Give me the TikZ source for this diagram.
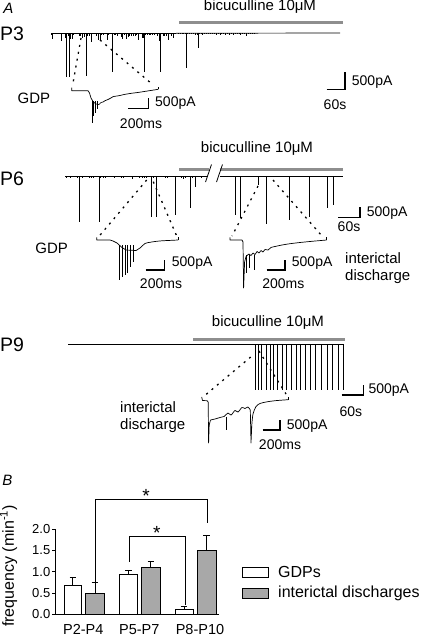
\documentclass[tikz,border=0pt]{standalone}
\usepackage{fontspec}
\setmainfont{Liberation Sans}
\definecolor{drugcol}{HTML}{8E8E8E}
\definecolor{barfill}{HTML}{A8A8A8}
\begin{document}
\begin{tikzpicture}[x=1pt,y=-1pt,
  lbl/.style={font=\fontsize{14}{16}\selectfont, inner sep=0pt},
  txt/.style={font=\fontsize{15}{17}\selectfont, inner sep=0pt},
  big/.style={font=\fontsize{19.5}{21}\selectfont, inner sep=0pt},
  panel/.style={font=\fontsize{15}{17}\selectfont\itshape, inner sep=0pt},
  drugbar/.style={draw=drugcol, line width=2.6pt},
  trace/.style={line width=0.7pt, line join=round},
  spike/.style={line width=0.8pt},
  zoomdash/.style={line width=1.3pt, dash pattern=on 2pt off 5pt},
  scalebar/.style={line width=1.3pt},
  databar/.style={draw, line width=0.8pt},
  errbar/.style={line width=0.8pt},
  bracket/.style={line width=0.8pt}]
\useasboundingbox (0,0) rectangle (422,637);

% ================= Panel A, P3 =================
\node[panel] (labA) at (8.3,8) {A};
\node[big] (p3) at (12,33.3) {P3};
\node[txt] (bic3) at (260,7) {bicuculline 10μM};
\draw[drugbar] (179,22.7) -- (343,22.7);
% trace
\draw[line width=1.4pt] (51,33.3) -- (176,33.3);
\draw[trace] (176,33.3) -- (340,33);
\pgfmathsetseed{12}
\foreach \k in {0,...,70}{
  \pgfmathsetmacro\xx{51+1.75*\k}
  \pgfmathsetmacro\dd{1+9*rnd*rnd}
  \draw[line width=0.6pt] (\xx,33) -- (\xx,33+\dd);
}
\foreach \k in {0,...,40}{
  \pgfmathsetmacro\xx{178+1.9*\k}
  \pgfmathsetmacro\dd{0.5+2.5*rnd*rnd}
  \draw[line width=0.5pt] (\xx,33) -- (\xx,33+\dd);
}
\foreach \sx/\sy in {66.7/76.7, 69.3/76.7, 86/76, 112.3/72, 144.3/72, 160/72, 186/68.3, 198.7/48.3}
  \draw[spike] (\sx,33) -- (\sx,\sy);
\draw[zoomdash] (81,38) -- (72.5,86);
\draw[zoomdash] (100,40) -- (152,84);
% inset GDP
\node[txt] (gdp3) at (34,98) {GDP};
\draw[trace] (71.7,87.5) -- (71.7,90.7) -- (88,90.7) -- (89.5,93) -- (91,98) -- (93,101.5);
\draw[trace] plot[smooth] coordinates {(93,101.5) (96,104) (99,104.5) (101,102.5) (103,102) (105,100.7) (108,99.5) (110,98.5) (113,96.7) (117,96) (120,95.5) (124,94.5) (127,94) (132,93.2) (137,92.6) (143,91.7) (150,90.6) (158.3,89.3)};
\draw[trace] (158.3,89.3) -- (158.3,87.3);
\foreach \sx/\sy in {92/123.3, 93.8/116, 95.5/113, 97.3/109}
  \draw[spike] (\sx,101) -- (\sx,\sy);
\draw[scalebar] (128.3,108.3) -- (148.3,108.3) -- (148.3,98.3);
\node[lbl, anchor=west] (sb3a) at (155,103) {500pA};
\node[lbl] (sb3b) at (141,123.3) {200ms};
% main scale
\draw[scalebar] (326.7,89.3) -- (345,89.3) -- (345,71.7);
\node[lbl, anchor=west] (sb3c) at (351.7,82) {500pA};
\node[lbl] (sb3d) at (335,105) {60s};

% ================= P6 =================
\node[big] (p6) at (12,178.3) {P6};
\node[txt] (bic6) at (257,148.3) {bicuculline 10μM};
\draw[drugbar] (179,169.5) -- (208.5,169.5);
\draw[drugbar] (219.5,169.5) -- (343,169.5);
\draw[line width=1.5pt] (65,176.5) -- (207.5,176.5);
\draw[trace] (220,176.5) -- (343,176.5);
\draw[line width=0.8pt] (205.5,182) -- (211.5,164.5);
\draw[line width=0.8pt] (216.5,182) -- (222.5,164.5);
\pgfmathsetseed{5}
\foreach \k in {0,...,60}{
  \pgfmathsetmacro\xx{66+2.3*\k}
  \pgfmathsetmacro\dd{0.5+2*rnd*rnd}
  \draw[line width=0.5pt] (\xx,176) -- (\xx,176.5+\dd);
}
\foreach \sx/\sy in {79.3/221.7, 99/221.7, 151/216.7, 156.7/216.7, 175.7/215, 190.6/208, 195.7/187}
  \draw[spike] (\sx,176.5) -- (\sx,\sy);
\foreach \sx/\sy in {235.5/215, 240.7/217.5, 258.3/185, 266/223.5, 289/220, 309.6/217, 327/207.5, 333.7/205}
  \draw[spike] (\sx,176.5) -- (\sx,\sy);
\draw[zoomdash] (146.7,180) -- (99.3,236);
\draw[zoomdash] (153.3,181.7) -- (176.7,236);
\draw[zoomdash] (258,186) -- (232,236);
\draw[zoomdash] (273,180) -- (322,236);
% GDP inset
\node[txt] (gdp6) at (51.7,248.3) {GDP};
\draw[trace] (96.7,237.3) -- (96.7,240) -- (110,240) -- (113,241) -- (117,243) -- (122,247.5) -- (126,250) -- (136,250.5);
\draw[trace] plot[smooth] coordinates {(136,250.5) (140,248) (145,243.5) (150,242.3) (155,241.5) (162,240.8) (170,240.4) (178,240)};
\draw[trace] (178,240) -- (178,237.3);
\foreach \sx/\sy in {119.3/280, 122.7/276.7, 125/275, 127.3/273.3, 130.7/266.7, 133.3/261.7}
  \draw[spike] (\sx,245) -- (\sx,\sy);
\draw[scalebar] (145.7,270) -- (164.3,270) -- (164.3,260);
\node[lbl, anchor=west] (sb6a) at (171.7,263.3) {500pA};
\node[lbl] (sb6b) at (161,283.3) {200ms};
% interictal inset
\draw[trace] (230,237.3) -- (230,240) -- (242,240) -- (243,242) -- (243.6,288) -- (244.6,262) -- (246,256.5);
\draw[trace] plot[smooth] coordinates {(246,256.5) (249,254) (251,255.5) (253,253) (255,254.5) (257,251.5) (259,253) (261,250.5) (263,252) (265,249.5) (268,250) (271,247.5) (275,246.5) (282,245) (290,243.7) (300,242.5) (312,241.3) (326.7,240)};
\draw[trace] (326.7,240) -- (326.7,237.3);
\foreach \sx/\sy in {246/273.3, 249.3/268, 254.3/270}
  \draw[spike] (\sx,255) -- (\sx,\sy);
\draw[scalebar] (266.7,270) -- (285,270) -- (285,260);
\node[lbl, anchor=west] (sb6c) at (291.7,263.3) {500pA};
\node[lbl] (sb6d) at (283.3,283.3) {200ms};
\node[txt, anchor=west, align=left] (id6) at (345,268.5) {interictal\\discharge};
% main scale
\draw[scalebar] (338.3,217.7) -- (360,217.7) -- (360,206.7);
\node[lbl, anchor=west] (sb6e) at (366.7,213.3) {500pA};
\node[lbl] (sb6f) at (349,226.7) {60s};

% ================= P9 =================
\node[big] (p9) at (12,344.3) {P9};
\node[txt] (bic9) at (268,323) {bicuculline 10μM};
\draw[drugbar] (193,339.3) -- (345,339.3);
\draw[line width=0.6pt] (68,344.7) -- (343.5,344.7);
\foreach \sx in {255,258.3,261.7,266,270,273.3,277.3,282,286.7,291.7,296,300,305,310,315,321.7,327.3,332.7,338.3,343.3}
  \draw[spike] (\sx,344.7) -- (\sx,390);
\draw[zoomdash] (250.7,357) -- (203,397);
\draw[zoomdash] (259,351) -- (286,394);
% inset
\draw[trace] (201.7,397) -- (202.5,400.5) -- (207,400.7) -- (208.2,402) -- (208.6,443) -- (209.2,425) -- (210.5,420);
\draw[trace] plot[smooth] coordinates {(210.5,420) (215,419) (220,417.5) (224,416.5) (228,413) (231,415) (235,410.5) (238,412) (242,407.5) (245,408.5) (248,407) (250.3,410)};
\draw[trace] (250.3,410) -- (251,443) -- (251.8,425);
\draw[trace] plot[smooth] coordinates {(251.8,425) (253,414) (256,406.5) (260,403.5) (266,402) (275,400.7) (288,399.7)};
\draw[trace] (288,399.7) -- (288,397.2);
\draw[spike] (226.7,416.5) -- (226.7,430);
\draw[scalebar] (262.7,430) -- (280,430) -- (280,420);
\node[lbl, anchor=west] (sb9a) at (286.7,426) {500pA};
\node[lbl] (sb9b) at (280,445) {200ms};
\node[txt, anchor=west, align=left] (id9) at (120,417.5) {interictal\\discharge};
% main scale
\draw[scalebar] (341.7,395) -- (363.3,395) -- (363.3,385);
\node[lbl, anchor=west] (sb9c) at (368.3,390) {500pA};
\node[lbl] (sb9d) at (350.8,411.7) {60s};

% ================= Panel B =================
\node[panel] (labB) at (7.5,480) {B};
% axes
\draw[line width=0.8pt] (55,529.3) -- (55,614.3) -- (218.5,614.3);
\foreach \v/\t in {0/0.0, 0.5/0.5, 1/1.0, 1.5/1.5, 2/2.0}{
  \draw[line width=0.8pt] (52,614.3-42.5*\v) -- (55,614.3-42.5*\v);
  \node[lbl, font=\fontsize{13}{15}\selectfont, anchor=east] (tick\v) at (50.5,614.3-42.5*\v) {\t};
}
\node[inner sep=0pt, font=\fontsize{16}{18}\selectfont, rotate=90] (ylab) at (8.5,566) {frequency (min\textsuperscript{-1})};
% bars: x0/x1/value/err/fill
\foreach \xa/\xb/\val/\er/\fc in {64/81.7/0.68/0.86/white, 85.7/104.3/0.50/0.75/barfill, 119.3/137.7/0.93/1.04/white, 141.7/160/1.10/1.24/barfill, 175/193.3/0.12/0.18/white, 197.3/216/1.50/1.86/barfill}{
  \pgfmathsetmacro\xm{(\xa+\xb)/2}
  \draw[errbar] (\xm,614.3-42.5*\val) -- (\xm,614.3-42.5*\er);
  \draw[errbar] (\xm-3.3,614.3-42.5*\er) -- (\xm+3.3,614.3-42.5*\er);
  \draw[databar, fill=\fc] (\xa,614.3) rectangle (\xb,614.3-42.5*\val);
}
\node[lbl, font=\fontsize{14.5}{16}\selectfont] (c1) at (83.3,629.5) {P2-P4};
\node[lbl, font=\fontsize{14.5}{16}\selectfont] (c2) at (139.3,629.5) {P5-P7};
\node[lbl, font=\fontsize{14.5}{16}\selectfont] (c3) at (200,629.5) {P8-P10};
% brackets
\draw[bracket] (95,583.3) -- (95,499.3) -- (207.3,499.3) -- (207.3,523.3);
\node[inner sep=0pt, font=\fontsize{19}{19}\selectfont] (st1) at (146,496) {*};
\draw[bracket] (129.3,561.7) -- (129.3,536) -- (185,536) -- (185,605);
\node[inner sep=0pt, font=\fontsize{19}{19}\selectfont] (st2) at (156.7,533) {*};
% legend
\draw[databar, fill=white] (242,567) rectangle (268,577);
\node[lbl, font=\fontsize{16}{18}\selectfont, anchor=west] (lg1) at (278,572) {GDPs};
\draw[databar, fill=barfill] (242,588) rectangle (268,598);
\node[lbl, font=\fontsize{16}{18}\selectfont, anchor=west] (lg2) at (278,593) {interictal discharges};
\end{tikzpicture}
\end{document}
